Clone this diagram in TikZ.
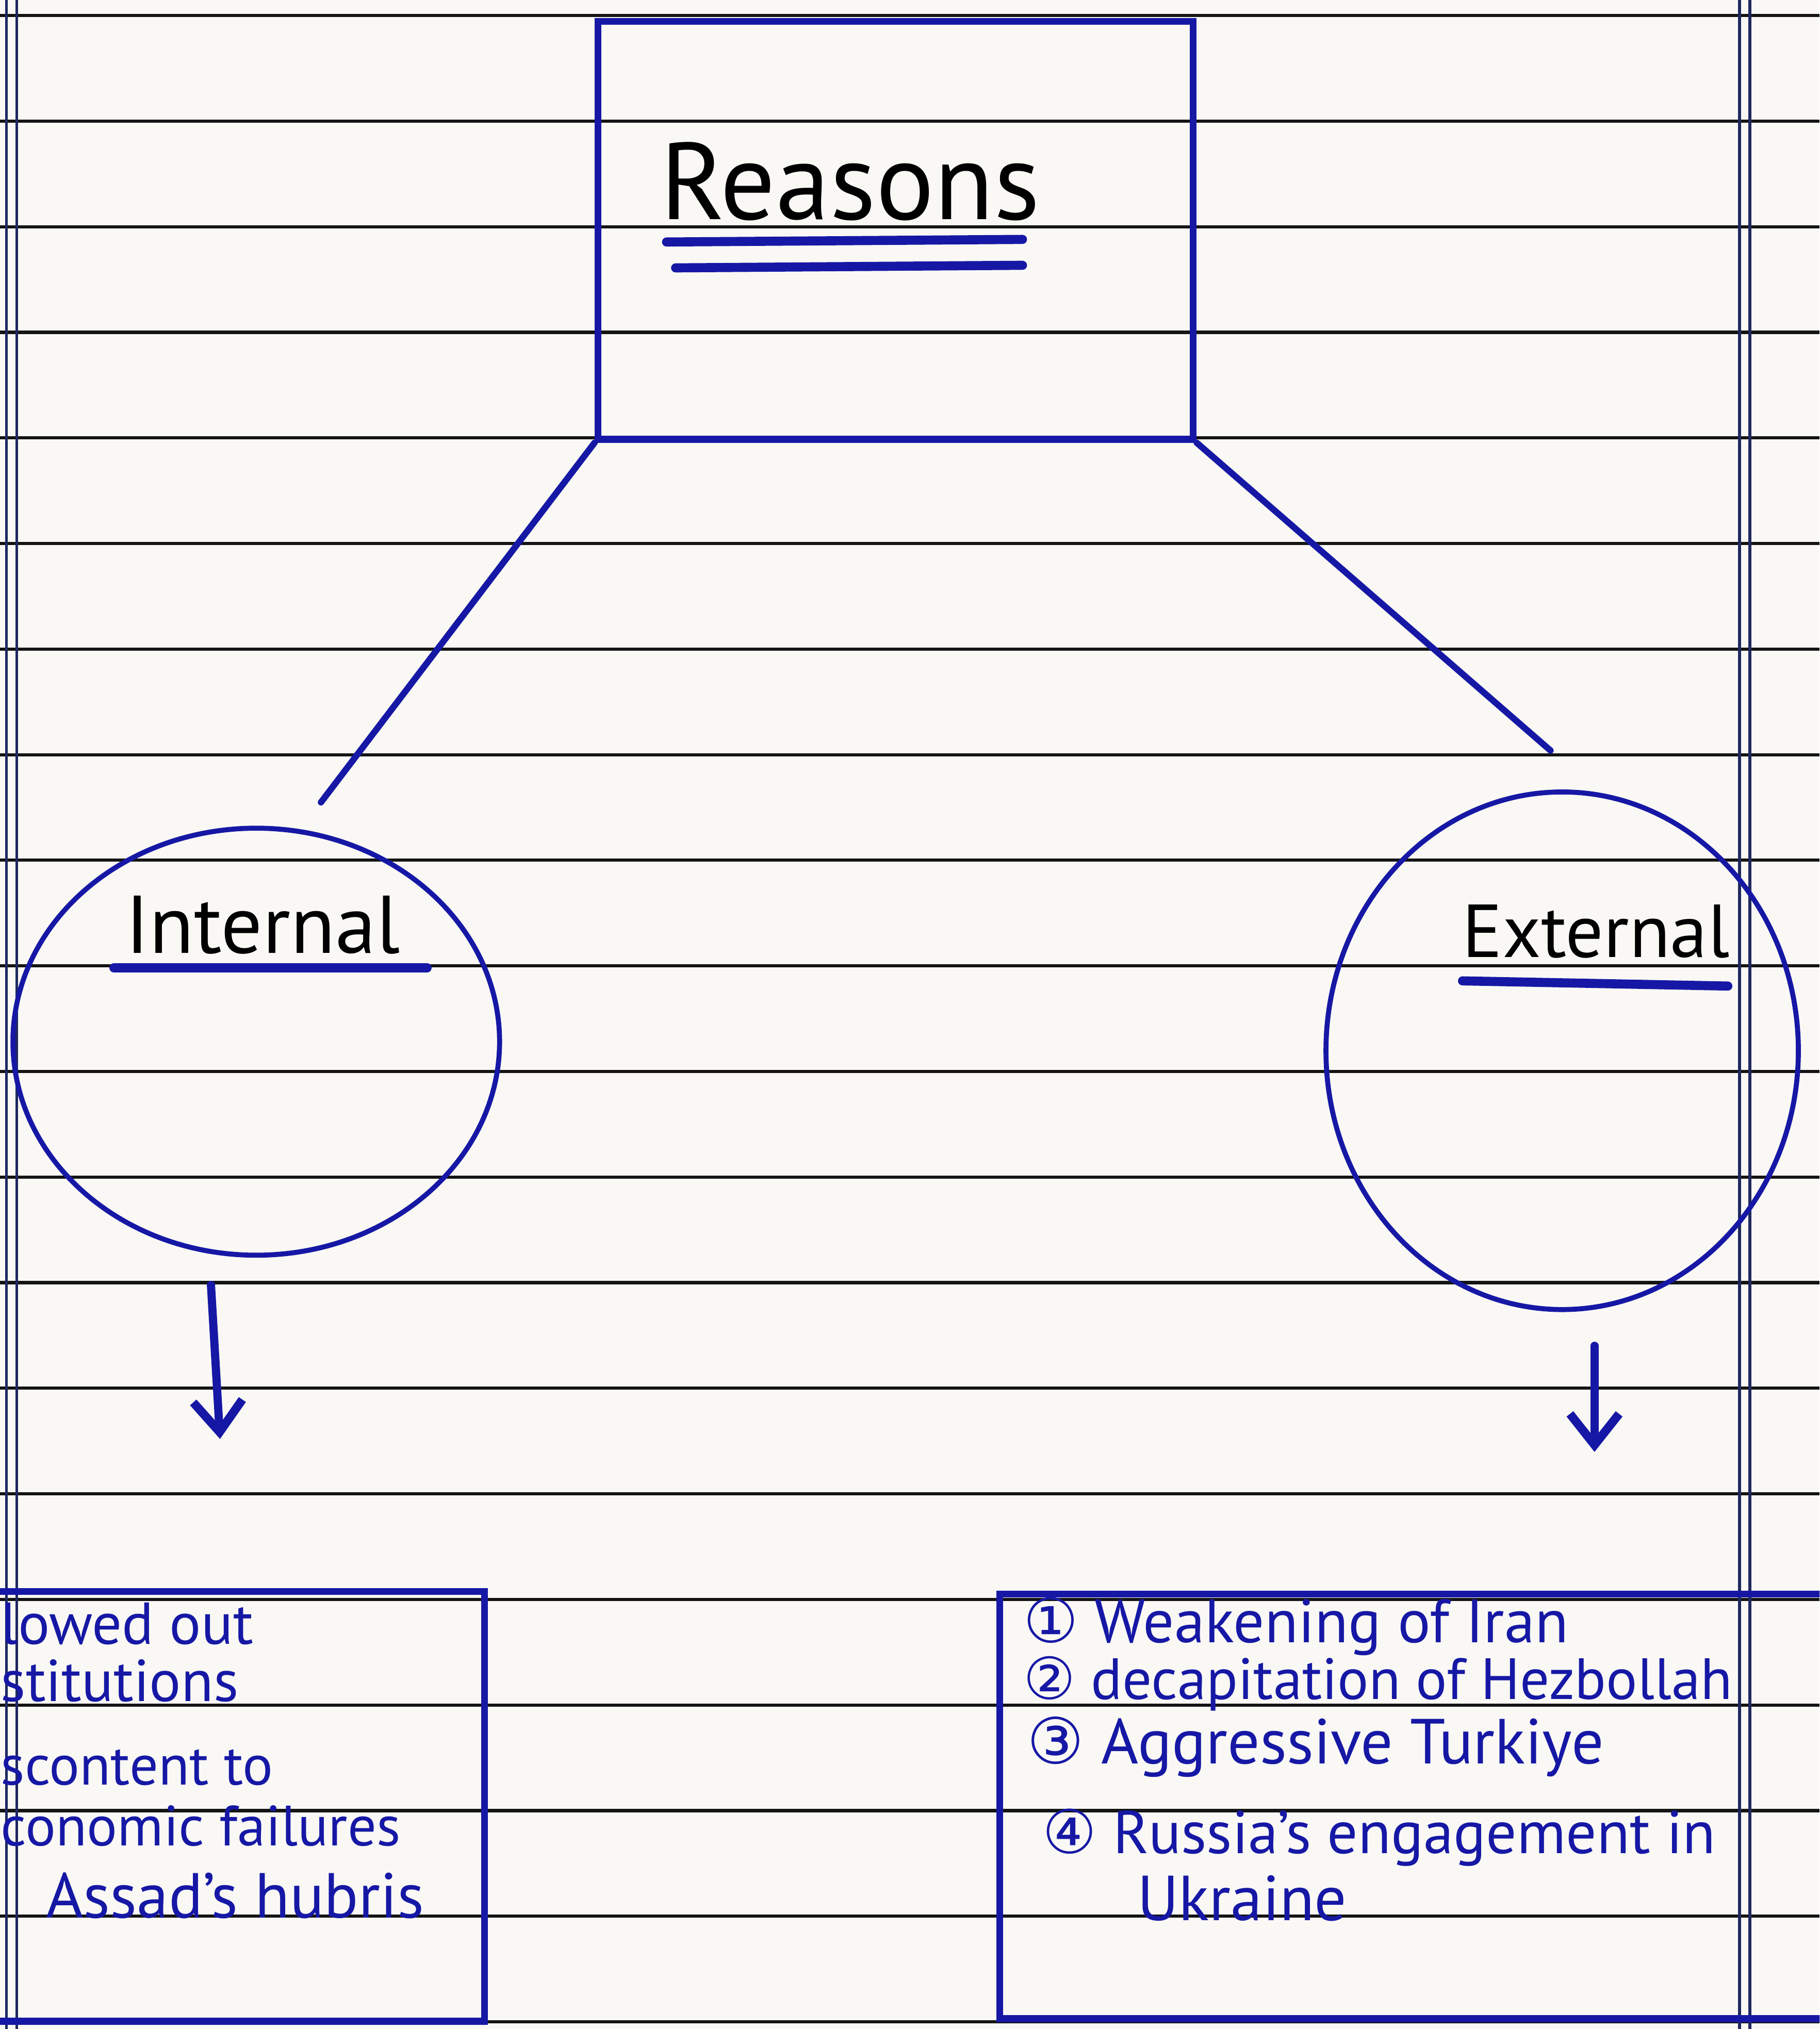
\documentclass[tikz,border=0pt]{standalone}
\usepackage{fontspec}
\setmainfont{PT Sans}
\newfontfamily\circfont{DejaVu Sans}
\usetikzlibrary{arrows.meta,positioning,shapes.geometric}
\definecolor{inkcol}{RGB}{22,24,165}
\definecolor{rulecol}{RGB}{20,20,20}
\definecolor{margincol}{RGB}{30,40,95}
\definecolor{papercol}{RGB}{249,248,245}
\tikzset{
  ruled line/.style={draw=rulecol,line width=0.7pt},
  margin line/.style={draw=margincol,line width=0.6pt},
  ink box/.style={rectangle,draw=inkcol,line width=1.5pt,inner sep=0pt},
  ink oval/.style={ellipse,draw=inkcol,line width=1.1pt,inner sep=0pt},
  ink line/.style={draw=inkcol,line width=1.4pt,line cap=round},
  ink under/.style={draw=inkcol,line width=2pt,line cap=round},
  ink arrow/.style={-{Straight Barb[length=2.4mm,width=3.8mm,line width=1.9pt]},draw=inkcol,line width=1.8pt,line cap=round},
  head text/.style={text=black,inner sep=0pt},
  note text/.style={text=inkcol,inner sep=0pt,anchor=west}
}

\begin{document}
\begin{tikzpicture}[x=0.1mm,y=-0.1mm]
  \useasboundingbox (0,0) rectangle (1406,1568);
  \fill[papercol] (0,0) rectangle (1406,1568);
  \clip (0,0) rectangle (1406,1568);
  % ruled paper
  \foreach \k in {0,...,19}{\draw[ruled line] (0,12+81.6*\k) -- (1406,12+81.6*\k);}
  \foreach \xx in {5,13,1344,1352}{\draw[margin line] (\xx,0) -- (\xx,1568);}
  % top box
  \node[ink box,minimum width=4.6cm,minimum height=3.23cm] (reasonsbox) at (692,178) {};
  \node[head text,font=\fontsize{24}{28}\selectfont] (reasons) at (657,140) {Reasons};
  \draw[ink under] (515,187) -- (790,185);
  \draw[ink under] (522,207) -- (790,205);
  % the two sides
  \node[ink oval,minimum width=3.76cm,minimum height=3.3cm] (internal) at (198,805) {};
  \node[head text,font=\fontsize{18}{20}\selectfont] (internallbl) at (203,715) {Internal};
  \draw[ink under] (88,748) -- (330,748);
  \node[ink oval,minimum width=3.65cm,minimum height=4.0cm] (external) at (1207,812) {};
  \node[head text,font=\fontsize{16.5}{18}\selectfont] (externallbl) at (1233,720) {External};
  \draw[ink under] (1130,758) -- (1335,762);
  \coordinate (intend) at (248,620);
  \coordinate (extend) at (1198,580);
  \draw[ink line] (reasonsbox.south west) -- (intend);
  \draw[ink line] (reasonsbox.south east) -- (extend);
  % arrows down
  \coordinate (intarr) at (163,993);
  \coordinate (intarrend) at (170,1112);
  \coordinate (extarr) at (1232,1040);
  \coordinate (extarrend) at (1232,1122);
  \draw[ink arrow] (intarr) -- (intarrend);
  \draw[ink arrow] (extarr) -- (extarrend);
  % lists
  \node[ink box,minimum width=4.05cm,minimum height=3.32cm] (intbox) at (172,1396) {};
  \node[ink box,minimum width=6.57cm,minimum height=3.28cm] (extbox) at (1101,1396) {};
  \foreach \nm/\xx/\yy/\fs/\txt in {l1/0/1255/13/lowed out, l2/0/1299/13/stitutions, l3/0/1366/12.5/scontent to, l4/0/1411/12.5/conomic failures, l5/35/1465/14/Assad's hubris}
    {\node[note text,font=\fontsize{\fs}{\fs}\selectfont] (\nm) at (\xx,\yy) {\txt};}
  \foreach \nm/\xx/\yy/\fs/\txt in {r1/790/1257/13.5/{{\circfont ①} Weakening of Iran}, r2/790/1301/12.8/{{\circfont ②} decapitation of Hezbollah}, r3/793/1350/14/{{\circfont ③} Aggressive Turkiye}, r4/805/1420/13.3/{{\circfont ④} Russia's engagement in}, r5/878/1467/14/Ukraine}
    {\node[note text,font=\fontsize{\fs}{\fs}\selectfont] (\nm) at (\xx,\yy) {\txt};}
\end{tikzpicture}
\end{document}
